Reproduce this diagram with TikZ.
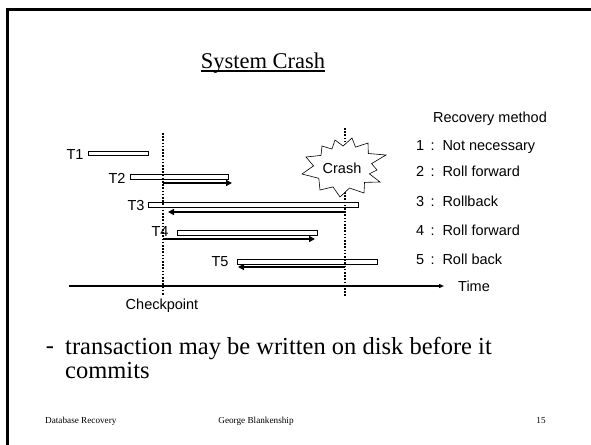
\documentclass[tikz,border=0pt]{standalone}
\usepackage{fontspec}
\setmainfont{Liberation Serif}
\setsansfont{Liberation Sans}
\usetikzlibrary{arrows.meta}

\tikzset{
  txbar/.style={draw=black, fill=white, line width=0.6pt},
  redo/.style={line width=1.4pt, -{Triangle[length=6pt,width=6pt]}},
  marker/.style={line width=1.6pt, dash pattern=on 1.6pt off 1.6pt},
  lbl/.style={font=\sffamily\fontsize{14.5}{14.5}\selectfont, inner sep=0pt},
  slide/.style={font=\fontsize{24.5}{24}\selectfont, inner sep=0pt},
  foot/.style={font=\fontsize{9.2}{9.2}\selectfont, inner sep=0pt},
}

\begin{document}
\begin{tikzpicture}[x=1pt,y=-1pt]
	\useasboundingbox (0,0) rectangle (591,444);
	
	%%%%% START %%%%%
	
	\draw[line width=3pt] (7,460) -- (7,10) -- (600,10);
	
	\node[font=\fontsize{22.5}{22.5}\selectfont, inner sep=0pt] (title) at (263,63) {System Crash};
	\draw[line width=1.3pt] ([yshift=-2.5pt]title.base west) -- ([yshift=-2.5pt]title.base east);
	
	% transactions
	\node[lbl] (t1) at (75,155) {T1};
	\draw[txbar] (88,151) rectangle (148,155);
	
	\node[lbl] (t2) at (117,178) {T2};
	\draw[txbar] (130,174) rectangle (228,179);
	\draw[redo] (163,183) -- (232,183);
	
	\node[lbl] (t3) at (136,206) {T3};
	\draw[txbar] (148,202) rectangle (358,207);
	\draw[redo] (345,212) -- (168,212);
	
	\node[lbl] (t4) at (160,232) {T4};
	\draw[txbar] (177,230) rectangle (317,235);
	\draw[redo] (163,239) -- (315,239);
	
	\node[lbl] (t5) at (220,262) {T5};
	\draw[txbar] (237,259) rectangle (377,264);
	\draw[redo] (345,267) -- (238,267);
	
	% time axis
	\node[lbl, anchor=west] (time) at (458,286) {Time};
	\draw[line width=1.2pt, -{Triangle[length=5pt,width=4pt]}] (69,286) -- ([xshift=-14pt]time.west);
	
	% checkpoint and crash
	\draw[marker] (163,133) -- (163,296);
	\node[lbl] (ckpt) at (162,306) {Checkpoint};
	
	\draw[marker] (345,128) -- (345,296);
	\draw[fill=white, line width=0.6pt] (302,174) -- (313.5,165.9) -- (306,157) -- (321,155.4)
	  -- (322,146) -- (331.9,149) -- (335,140) -- (343.1,146) -- (352,138) -- (355.5,147.1)
	  -- (368,143) -- (368.3,153.5) -- (386,155) -- (371.6,163.6) -- (377,170) -- (369.4,173.8)
	  -- (380,182) -- (364.5,182.4) -- (364,193) -- (349.5,188) -- (340,197) -- (333,186.9)
	  -- (320,190) -- (318.8,178.3) -- cycle;
	\node[lbl] (crash) at (342,168) {Crash};
	
	% recovery
	\node[lbl, anchor=west] (rec) at (433,119) {Recovery method};
	\node[lbl, anchor=west] (r1) at (416,147) {1 \,:\, Not necessary};
	\node[lbl, anchor=west] (r2) at (416,171) {2 \,:\, Roll forward};
	\node[lbl, anchor=west] (r3) at (416,201) {3 \,:\, Rollback};
	\node[lbl, anchor=west] (r4) at (416,230) {4 \,:\, Roll forward};
	\node[lbl, anchor=west] (r5) at (416,259) {5 \,:\, Roll back};
	
	% bullet
	\node[slide] (dash) at (50,350) {-};
	\node[slide, anchor=north west, align=left] (note) at (65,337)
	  {transaction may be written on disk before it\\commits};
	
	% footer
	\node[foot, anchor=west] (f1) at (45,421) {Database Recovery};
	\node[foot] (f2) at (256,421) {George Blankenship};
	\node[foot] (f3) at (541,421) {15};
	
	%%%%% END %%%%%
\end{tikzpicture}
\end{document}
